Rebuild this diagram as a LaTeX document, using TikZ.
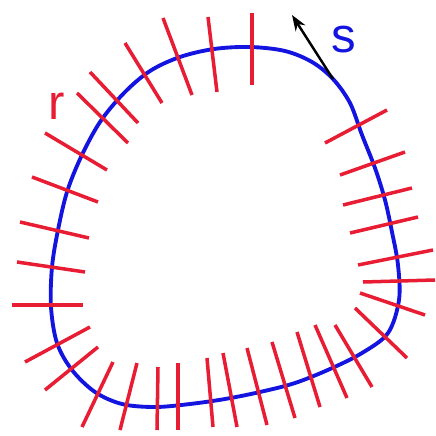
\documentclass[tikz,border=0pt]{standalone}
\usepackage{fontspec}
\setmainfont{Liberation Sans}
\usetikzlibrary{arrows.meta}
\definecolor{curveblue}{RGB}{20,20,225}
\definecolor{tickred}{RGB}{232,28,50}
\begin{document}
\begin{tikzpicture}[x=0.02cm, y=-0.02cm,
    curve/.style={curveblue, line width=2.2pt},
    tick/.style={tickred, line width=2pt},
    tangent/.style={black, line width=1.4pt, -{Stealth[length=9pt,width=6.5pt]}},
    lbl/.style={font=\fontsize{28}{28}\selectfont, inner sep=0pt}]
  \useasboundingbox (0,0) rectangle (436,436);
  % courbe fermee
  \draw[curve] plot[smooth cycle, tension=0.55] coordinates {
      (250,47) (285,51) (312,62) (333,79) (350,103) (362,135)
      (375,168) (385,200) (392,232) (398,265) (399,300) (388,333)
      (362,353) (330,369) (295,383) (260,392) (225,399) (190,404)
      (155,407) (122,404) (95,392) (72,370) (57,343) (51,307)
      (52,267) (58,230) (67,192) (81,157) (100,122) (124,93)
      (150,71) (180,57) (214,49)};
  % segments rouges
  \foreach \xa/\ya/\xb/\yb in {
      252/13/252/85, 208/17/217/92, 163/18/192/95, 125/43/162/103,
      90/72/138/123, 77/93/128/143, 45/133/107/170, 32/177/98/202,
      20/222/89/238, 17/262/85/272, 12/305/83/305, 25/362/90/327,
      45/390/98/347, 82/427/113/362, 120/430/137/363, 157/430/158/367,
      178/363/178/430, 207/358/213/427, 223/353/237/427, 247/348/267/425,
      272/342/295/418, 297/332/320/407, 315/325/347/398, 335/325/372/387,
      355/308/407/358, 360/293/425/315, 363/282/435/280, 358/265/433/250,
      350/233/418/217, 343/205/412/188, 340/175/405/152, 325/143/387/110} {
    \draw[tick] (\xa,\ya) -- (\xb,\yb);
  }
  % tangente
  \coordinate (s0) at (333,79);
  \coordinate (s1) at (292,15);
  \draw[tangent] (s0) -- (s1);
  % etiquettes
  \node[lbl, text=curveblue] (slabel) at (344,40) {s};
  \node[lbl, text=tickred] (rlabel) at (57,106) {r};
\end{tikzpicture}
\end{document}
